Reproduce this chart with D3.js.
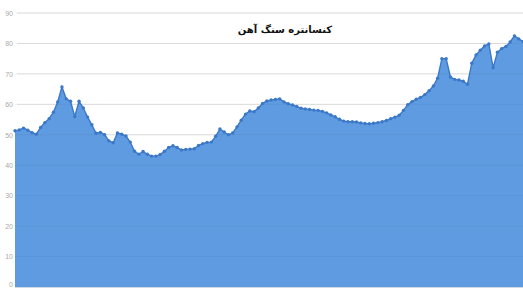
<!DOCTYPE html>
<html><head><meta charset="utf-8">
<script src="https://cdn.jsdelivr.net/npm/d3@7"></script>
<style>body{margin:0;background:#fff}svg{display:block}</style>
</head><body>
<script>
const title = "کنسانتره سنگ آهن";
const yTicks = [0,10,20,30,40,50,60,70,80,90];
const values = [51.3,51.6,52.2,51.5,50.7,50.2,52.4,54.0,55.3,57.4,
60.8,65.7,61.8,61.0,56.0,61.0,58.8,55.8,53.3,50.5,
50.8,50.0,48.0,47.4,50.6,50.2,49.6,47.6,44.6,43.6,
44.5,43.6,43.0,43.0,43.5,44.6,45.8,46.4,45.8,45.0,
45.2,45.3,45.4,46.5,47.1,47.5,47.6,49.5,51.9,50.9,
50.0,50.6,52.6,54.8,56.8,57.8,57.6,58.8,60.3,61.1,
61.4,61.6,61.8,60.8,60.2,59.8,59.3,58.7,58.5,58.3,
58.1,58.0,57.7,57.2,56.5,55.9,55.1,54.5,54.3,54.3,
54.2,53.9,53.7,53.6,53.8,54.0,54.3,54.7,55.3,55.8,
56.4,58.0,59.9,60.9,61.7,62.3,63.2,64.5,66.0,68.6,
75.0,75.0,69.0,68.2,68.0,67.6,66.6,73.5,76.2,77.8,
79.2,79.8,72.0,77.1,78.3,79.0,80.5,82.5,81.5,80.6];
const idx = values.map((d,i)=>i);

const W=523,H=289;
const svg=d3.select("body").append("svg").attr("width",W).attr("height",H);
const x=d3.scalePoint().domain(idx).range([15,523]);
const y=d3.scaleLinear().domain([0,90]).range([287,13]);

svg.append("g").selectAll("line").data(yTicks).join("line")
  .attr("x1",17).attr("x2",W).attr("y1",d=>y(d)).attr("y2",d=>y(d))
  .attr("stroke","#e2e2e2").attr("stroke-width",1);

const area=d3.area().x(d=>x(d)).y0(y(0)).y1(d=>y(values[d]));
svg.append("path").datum(idx).attr("d",area).attr("fill","#5f9be0");

svg.append("g").selectAll("line").data(yTicks.filter(d=>d>0)).join("line")
  .attr("x1",15).attr("x2",W).attr("y1",d=>y(d)).attr("y2",d=>y(d))
  .attr("stroke","#000").attr("stroke-opacity",0.04).attr("stroke-width",1);

const line=d3.line().x(d=>x(d)).y(d=>y(values[d]));
svg.append("path").datum(idx).attr("d",line).attr("fill","none")
  .attr("stroke","#3b78c8").attr("stroke-width",1.4);
svg.append("g").selectAll("circle").data(idx).join("circle")
  .attr("cx",d=>x(d)).attr("cy",d=>y(values[d])).attr("r",1.7).attr("fill","#3b78c8");

svg.append("line").attr("x1",15).attr("x2",W).attr("y1",y(0)+0.5).attr("y2",y(0)+0.5)
  .attr("stroke","#cfd8e3").attr("stroke-width",1);

const yAxis=d3.axisLeft(y).tickValues(yTicks).tickSize(0).tickPadding(2);
const ga=svg.append("g").attr("transform","translate(15,0)").call(yAxis);
ga.select(".domain").remove();
ga.selectAll("text").attr("fill","#aaa").attr("font-size",7).attr("font-family","Arial, 'Liberation Sans', sans-serif");
ga.selectAll(".tick").filter(d=>d===0).select("text").attr("dy","-0.05em");

svg.append("text").attr("x",285).attr("y",33).attr("text-anchor","middle")
  .attr("font-family","'DejaVu Sans', 'Noto Sans', sans-serif").attr("font-weight","bold")
  .attr("font-size",10).attr("fill","#111").text(title);
</script>
</body></html>
